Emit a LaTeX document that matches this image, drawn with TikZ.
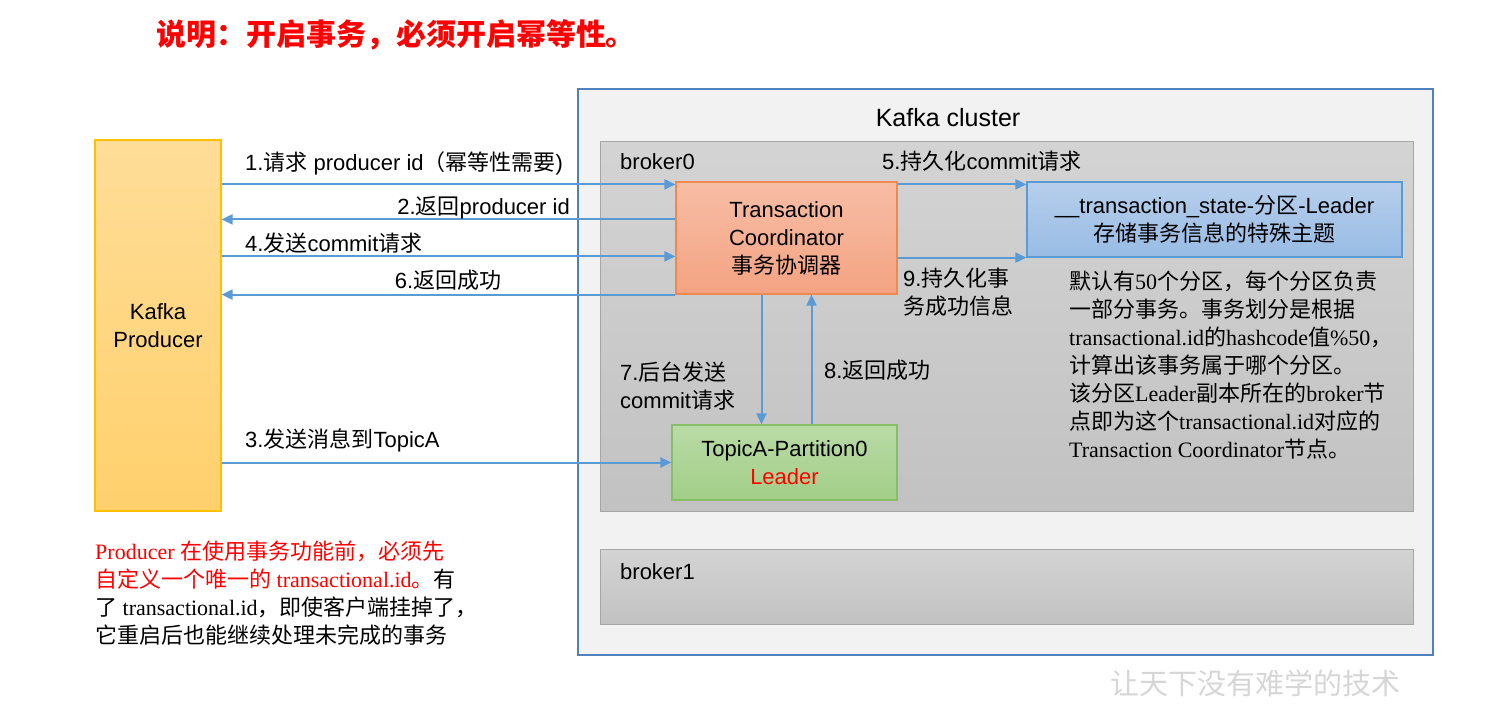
\documentclass[tikz,border=0pt]{standalone}
\usepackage{fontspec}
\setmainfont{Liberation Sans}
\newfontfamily\cjk{Noto Sans CJK SC}
\newfontfamily\tnr{Liberation Serif}
\newcommand\zh[1]{{\cjk #1}}
\usepackage{tikz}
\usetikzlibrary{arrows.meta,positioning}
\definecolor{flowblue}{HTML}{5B9BD5}
\definecolor{clusterline}{HTML}{4F81BD}
\definecolor{clusterfill}{HTML}{F2F2F2}
\definecolor{brokerline}{HTML}{A6A6A6}
\definecolor{prodtop}{HTML}{FFDD98}
\definecolor{prodbot}{HTML}{FFD06C}
\definecolor{prodline}{HTML}{FFC000}
\definecolor{coordtop}{HTML}{F7BDA5}
\definecolor{coordbot}{HTML}{F4A382}
\definecolor{coordline}{HTML}{EE8A4E}
\definecolor{statetop}{HTML}{B7CFEC}
\definecolor{statebot}{HTML}{98BBE4}
\definecolor{topictop}{HTML}{B9DBA6}
\definecolor{topicbot}{HTML}{A2CE87}
\definecolor{topicline}{HTML}{86BF65}

\begin{document}
\begin{tikzpicture}[x=1pt, y=1pt, >={Triangle[length=11pt,width=10pt]},
  every node/.style={font=\fontsize{22}{28}\selectfont},
  flow/.style={->, draw=flowblue, line width=2pt},
  lbl/.style={inner sep=0pt, align=left},
  box/.style={draw, line width=1.2pt, align=center, inner sep=0pt},
  brokerbox/.style={draw=brokerline, line width=1pt, top color=black!17, bottom color=black!24, minimum width=813pt, inner sep=0pt}]
  \useasboundingbox (0,0) rectangle (1500,-717);

  \node (title) at (396,-35) {\color{red}\cjk\bfseries\fontsize{30}{34}\selectfont 说明：开启事务，必须开启幂等性。};

  % cluster and brokers
  \node (cluster) [draw=clusterline, line width=2pt, fill=clusterfill, minimum width=855pt, minimum height=566pt] at (1005.5,-372) {};
  \node (clusterlbl) [font=\fontsize{25}{30}\selectfont] at (948,-118) {Kafka cluster};
  \node (broker0) [brokerbox, minimum height=370pt] at (1006.5,-326) {};
  \node (broker1) [brokerbox, minimum height=75pt] at (1006.5,-586.5) {};
  \node (b0lbl) [lbl, anchor=west] at (620,-162) {broker0};
  \node (b1lbl) [lbl, anchor=west] at (620,-572) {broker1};

  % boxes
  \node (producer) [box, draw=prodline, top color=prodtop, bottom color=prodbot, minimum width=126pt, minimum height=371pt] at (158,-325.5) {Kafka\\Producer};
  \node (coord) [box, draw=coordline, top color=coordtop, bottom color=coordbot, minimum width=221pt, minimum height=112pt] at (786.5,-238) {Transaction\\Coordinator\\\zh{事务协调器}};
  \node (state) [box, draw=flowblue, top color=statetop, bottom color=statebot, minimum width=375pt, minimum height=75pt] at (1214.5,-219.5) {\_\_transaction\_state-\zh{分区}-Leader\\\zh{存储事务信息的特殊主题}};
  \node (topic) [box, draw=topicline, top color=topictop, bottom color=topicbot, minimum width=225pt, minimum height=75pt] at (784.5,-462.5) {TopicA-Partition0\\\textcolor{red}{Leader}};

  % connectors
  \coordinate (r1) at ([yshift=-3pt]coord.north west);
  \coordinate (r2) at ([yshift=-38pt]coord.north west);
  \coordinate (r4) at ([yshift=-75pt]coord.north west);
  \draw[flow] (r1 -| producer.east) -- (r1);
  \draw[flow] (r2) -- (r2 -| producer.east);
  \draw[flow] (topic.west -| producer.east) -- (topic.west);
  \draw[flow] (r4 -| producer.east) -- (r4);
  \draw[flow] (r1 -| coord.east) -- (r1 -| state.west);
  \draw[flow] (coord.south west) -- (coord.south west -| producer.east);
  \draw[flow] ([xshift=-25pt]coord.south) -- ([xshift=-25pt]coord.south |- topic.north);
  \draw[flow] ([xshift=25pt]coord.south |- topic.north) -- ([xshift=25pt]coord.south);
  \draw[flow] (state.south west -| coord.east) -- (state.south west);

  % labels
  \node (l1) [lbl, anchor=west] at (245,-163) {1.\zh{请求} producer id\zh{（幂等性需要})};
  \node (l2) [lbl, anchor=east] at (570,-208) {2.\zh{返回}producer id};
  \node (l3) [lbl, anchor=west] at (245,-440) {3.\zh{发送消息到}TopicA};
  \node (l4) [lbl, anchor=west] at (245,-243) {4.\zh{发送}commit\zh{请求}};
  \node (l5) [lbl, anchor=west] at (882,-161) {5.\zh{持久化}commit\zh{请求}};
  \node (l6) [lbl] at (448,-280) {6.\zh{返回成功}};
  \node (l7) [lbl, anchor=west] at (620,-386) {7.\zh{后台发送}\\commit\zh{请求}};
  \node (l8) [lbl, anchor=west] at (824,-370) {8.\zh{返回成功}};
  \node (l9) [lbl, anchor=west] at (903,-292) {9.\zh{持久化事}\\\zh{务成功信息}};

  % notes
  \node (rule) [lbl, anchor=west, font=\tnr\fontsize{22}{28}\selectfont] at (1069,-365) {\zh{默认有}50\zh{个分区，每个分区负责}\\
    \zh{一部分事务。事务划分是根据}\\
    transactional.id\zh{的}hashcode\zh{值}\%50\zh{，}\\
    \zh{计算出该事务属于哪个分区。}\\
    \zh{该分区}Leader\zh{副本所在的}broker\zh{节}\\
    \zh{点即为这个}transactional.id\zh{对应的}\\
    Transaction Coordinator\zh{节点。}};
  \node (hint) [lbl, anchor=west, font=\tnr\fontsize{22}{28}\selectfont] at (95,-593) {\textcolor{red}{Producer \zh{在使用事务功能前，必须先}}\\
    \textcolor{red}{\zh{自定义一个唯一的} transactional.id\zh{。}}\zh{有}\\
    \zh{了} transactional.id\zh{，即使客户端挂掉了，}\\
    \zh{它重启后也能继续处理未完成的事务}};
  \node (motto) [text=black!16, font=\cjk\fontsize{29}{32}\selectfont] at (1255,-683) {让天下没有难学的技术};
\end{tikzpicture}
\end{document}
